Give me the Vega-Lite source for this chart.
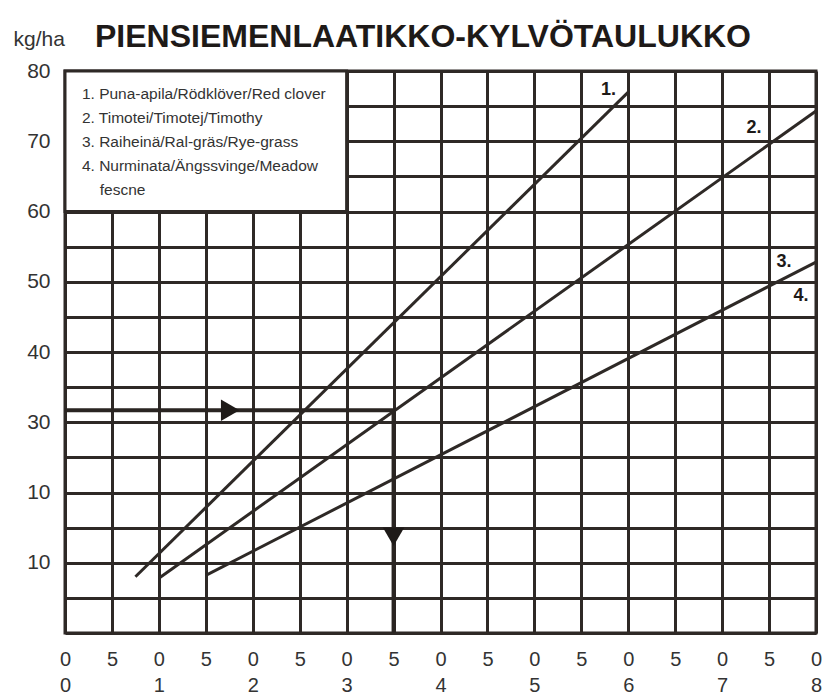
{
  "$schema": "https://vega.github.io/schema/vega-lite/v6.json",
  "width": 751,
  "height": 562,
  "autosize": {"type": "none"},
  "padding": {"left": 65, "top": 71, "right": 19, "bottom": 64},
  "background": "white",
  "title": {
    "text": "PIENSIEMENLAATIKKO-KYLVÖTAULUKKO",
    "anchor": "start",
    "dx": 82,
    "offset": -51,
    "baseline": "alphabetic",
    "font": "Liberation Sans",
    "fontSize": 32,
    "fontWeight": "bold",
    "color": "#1e1a18"
  },
  "config": {
    "view": {"stroke": "#2e2926", "strokeWidth": 3},
    "axis": {
      "grid": true,
      "gridColor": "#2e2926",
      "gridWidth": 3,
      "gridOpacity": 1,
      "domain": false,
      "ticks": false,
      "labelFont": "Liberation Sans",
      "labelColor": "#333333",
      "labelFontSize": 20,
      "labelOverlap": false,
      "labelFlush": false
    }
  },
  "datasets": {
    "box": [{"x": 0, "x2": 3, "y": 60, "y2": 80}],
    "curves": [
      {"series": "1", "i": 0, "x": 0.75, "y": 8.0},
      {"series": "1", "i": 1, "x": 6.0, "y": 77.0},
      {"series": "2", "i": 0, "x": 1.0, "y": 7.8},
      {"series": "2", "i": 1, "x": 8.0, "y": 74.3},
      {"series": "3", "i": 0, "x": 1.5, "y": 8.2},
      {"series": "3", "i": 1, "x": 8.0, "y": 52.8}
    ],
    "guide": [
      {"i": 0, "x": 0.0, "y": 31.7},
      {"i": 1, "x": 3.5, "y": 31.7},
      {"i": 2, "x": 3.5, "y": 0.0}
    ],
    "heads": [
      {"shape": "triangle-right", "x": 1.76, "y": 31.7},
      {"shape": "triangle-down", "x": 3.5, "y": 13.7}
    ],
    "legendText": [
      {"x": 0.18, "y": 76.7, "label": "1. Puna-apila/Rödklöver/Red clover"},
      {"x": 0.18, "y": 73.3, "label": "2. Timotei/Timotej/Timothy"},
      {"x": 0.18, "y": 69.9, "label": "3. Raiheinä/Ral-gräs/Rye-grass"},
      {"x": 0.18, "y": 66.5, "label": "4. Nurminata/Ängssvinge/Meadow"},
      {"x": 0.37, "y": 63.1, "label": "fescne"}
    ],
    "seriesText": [
      {"x": 5.79, "y": 77.3, "label": "1."},
      {"x": 7.34, "y": 71.9, "label": "2."},
      {"x": 7.66, "y": 52.8, "label": "3."},
      {"x": 7.84, "y": 48.0, "label": "4."}
    ]
  },
  "encoding": {
    "x": {
      "field": "x",
      "type": "quantitative",
      "scale": {"domain": [0, 8], "nice": false, "zero": false},
      "axis": {
        "title": null,
        "values": [0, 0.5, 1, 1.5, 2, 2.5, 3, 3.5, 4, 4.5, 5, 5.5, 6, 6.5, 7, 7.5, 8],
        "labelExpr": "datum.value % 1 === 0 ? ['0', format(datum.value, 'd')] : '5'",
        "labelPadding": 16,
        "labelLineHeight": 26,
        "labelBaseline": "top"
      }
    },
    "y": {
      "field": "y",
      "type": "quantitative",
      "scale": {"domain": [0, 80], "nice": false, "zero": false},
      "axis": {
        "title": "kg/ha",
        "titleAngle": 0,
        "titleX": -52,
        "titleY": -26,
        "titleAlign": "left",
        "titleBaseline": "alphabetic",
        "titleFont": "Liberation Sans",
        "titleFontSize": 21,
        "titleFontWeight": "normal",
        "titleColor": "#333333",
        "values": [0, 5, 10, 15, 20, 25, 30, 35, 40, 45, 50, 55, 60, 65, 70, 75, 80],
        "labelExpr": "datum.value === 0 || datum.value % 10 !== 0 ? '' : (datum.value === 20 ? '10' : datum.label)",
        "labelPadding": 15,
        "labelFontSize": 21
      }
    }
  },
  "layer": [
    {
      "data": {"name": "box"},
      "mark": {"type": "rect", "fill": "white", "stroke": "#2e2926", "strokeWidth": 3},
      "encoding": {"x2": {"field": "x2"}, "y2": {"field": "y2"}}
    },
    {
      "data": {"name": "curves"},
      "mark": {"type": "line", "color": "#2e2926", "strokeWidth": 3},
      "encoding": {"detail": {"field": "series"}, "order": {"field": "i"}}
    },
    {
      "data": {"name": "guide"},
      "mark": {"type": "line", "color": "#2a2522", "strokeWidth": 4},
      "encoding": {"order": {"field": "i"}}
    },
    {
      "data": {"name": "heads"},
      "mark": {"type": "point", "filled": true, "color": "#1e1a18", "opacity": 1, "size": 460},
      "encoding": {"shape": {"field": "shape", "type": "nominal", "scale": null}}
    },
    {
      "data": {"name": "legendText"},
      "mark": {"type": "text", "align": "left", "baseline": "middle", "font": "Liberation Sans", "fontSize": 15.5, "color": "#333333"},
      "encoding": {"text": {"field": "label"}}
    },
    {
      "data": {"name": "seriesText"},
      "mark": {"type": "text", "align": "center", "baseline": "middle", "font": "Liberation Sans", "fontSize": 18, "fontWeight": "bold", "color": "#1e1a18"},
      "encoding": {"text": {"field": "label"}}
    }
  ]
}
